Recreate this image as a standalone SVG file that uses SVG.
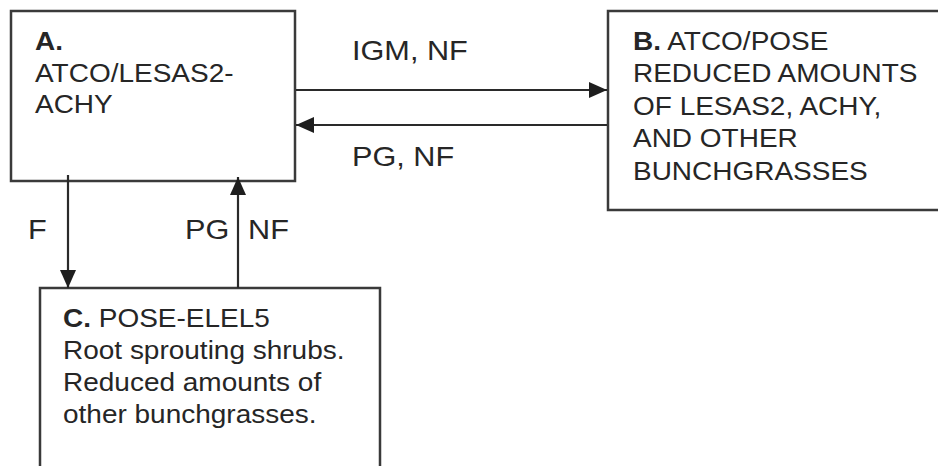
<svg xmlns="http://www.w3.org/2000/svg" width="938" height="466" viewBox="0 0 938 466">
<style>
.box{fill:#fff;stroke:#3a3a3a;stroke-width:2.5}
.conn{stroke:#2a2a2a;stroke-width:2.2;fill:none}
.t{font-family:"Liberation Sans",Arial,Helvetica,sans-serif;font-size:25.8px;fill:#262626}
.l{font-family:"Liberation Sans",Arial,Helvetica,sans-serif;font-size:28px;fill:#262626}
.b{font-weight:bold}
</style>
<defs>
<marker id="ah" viewBox="0 0 18 16" refX="18" refY="8" markerWidth="18" markerHeight="16" markerUnits="userSpaceOnUse" orient="auto">
<path d="M0,0 L18,8 L0,16 z" fill="#1e1e1e"/>
</marker>
</defs>
<rect width="938" height="466" fill="#fff"/>
<g id="nodeA">
<rect class="box" x="11" y="11" width="284" height="170"/>
<text class="t" transform="translate(35,50) scale(1.085,1)"><tspan class="b">A.</tspan><tspan x="0" dy="31.7">ATCO/LESAS2-</tspan><tspan x="0" dy="31.7">ACHY</tspan></text>
</g>
<g id="nodeB">
<path class="box" d="M942,11 H608 V210 H942"/>
<text class="t" transform="translate(633,50) scale(1.085,1)"><tspan class="b">B.</tspan> ATCO/POSE<tspan x="0" dy="32.4">REDUCED AMOUNTS</tspan><tspan x="0" dy="32.4">OF LESAS2, ACHY,</tspan><tspan x="0" dy="32.4">AND OTHER</tspan><tspan x="0" dy="32.4">BUNCHGRASSES</tspan></text>
</g>
<g id="nodeC">
<path class="box" d="M40,470 V288 H380 V470"/>
<text class="t" transform="translate(63,327) scale(1.085,1)"><tspan class="b">C.</tspan> POSE-ELEL5<tspan x="0" dy="32.5">Root sprouting shrubs.</tspan><tspan x="0" dy="32">Reduced amounts of</tspan><tspan x="0" dy="32">other bunchgrasses.</tspan></text>
</g>
<g id="connectors">
<line class="conn" x1="296" y1="90" x2="607" y2="90" marker-end="url(#ah)"/>
<line class="conn" x1="607" y1="125" x2="296" y2="125" marker-end="url(#ah)"/>
<line class="conn" x1="68" y1="175" x2="68" y2="288" marker-end="url(#ah)"/>
<line class="conn" x1="238" y1="288" x2="238" y2="177" marker-end="url(#ah)"/>
<text class="l" transform="translate(352,60) scale(1.095,1)">IGM, NF</text>
<text class="l" transform="translate(352,166) scale(1.095,1)">PG, NF</text>
<text class="l" transform="translate(28,239) scale(1.095,1)">F</text>
<text class="l" transform="translate(185,239) scale(1.095,1)">PG</text>
<text class="l" transform="translate(248,239) scale(1.095,1)">NF</text>
</g>
</svg>
